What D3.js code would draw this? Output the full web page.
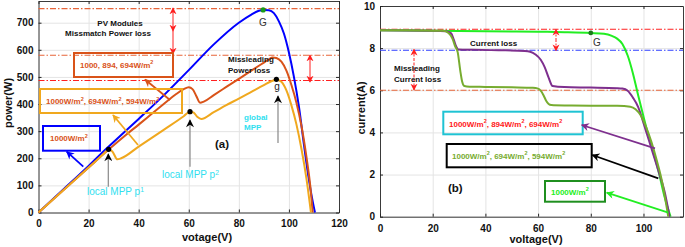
<!DOCTYPE html>
<html><head><meta charset="utf-8">
<script src="https://cdn.jsdelivr.net/npm/d3@7"></script>
<style>
body{margin:0;background:#fff;}
svg{display:block;font-family:"Liberation Sans",Arial,sans-serif;}
</style></head><body>
<svg id="c" width="685" height="247"></svg>
<script>
// ---------- DATA ----------
// (a) P-V curves
const pvXTicks = [0,20,40,60,80,100,120];
const pvYTicks = [0,100,200,300,400,500,600,700];
const blueV = [0,10,20,25,30,40,50,60,70,80,85,88,90,92,94,96,98,100,102,104,106,108,109,110.4];
const blueP = [0,86,172,217,260,345,432,525,620,700,730,744,747,746,735,705,660,590,500,390,250,120,65,0];
const midV = [0,10,20,28,35,40,45,50,55,58,60,61.5,63,64.5,66,70,75,80,85,90,92,93.5,95,97,99,101,103,105,107,108.5,109.5];
const midP = [0,83,166,232,287,324,362,400,437,455,462,455,430,405,409,433,463,493,523,553,565,572,570,556,523,470,405,320,205,100,0];
const lowV = [0,10,20,26,28,29.5,31.5,33,40,50,58,60.5,62,63.5,65,70,75,80,85,90,93,95,97,99,101,103,105,107,108.8];
const lowP = [0,83,166,216,232,225,196,200,243,305,355,372,368,352,345,370,396,420,445,470,484,490,482,450,395,325,235,125,0];
const pvLossLevels = [752, 580, 487];
const pvDots = [[28,233],[60.5,372],[95,491]];   // p1, p2, g
const pvGlobal = [[89.7,747]];                    // G

// (b) I-V curves
const ivXTicks = [0,20,40,60,80,100];
const ivYTicks = [0,2,4,6,8,10];
const greenV = [0,20,40,60,70,80,85,88,90,92,94,96,98,100,102,104,106,108,110.3];
const greenI = [8.85,8.83,8.8,8.78,8.76,8.72,8.68,8.58,8.45,8.2,7.65,6.8,5.75,4.75,3.8,2.95,2.0,0.95,0];
const purpleV = [0,20,25,27,28,29,29.7,35,45,55,57,59,61,62.5,64,65.5,70,80,90,92,94,96,98,100,102,104,106,108,109.9];
const purpleI = [8.85,8.83,8.8,8.7,8.4,8.05,7.94,7.92,7.9,7.87,7.83,7.7,7.45,7.1,6.6,6.2,6.15,6.13,6.1,6.08,5.98,5.65,5.2,4.45,3.65,2.85,2.05,1.2,0];
const oliveV = [0,10,20,24,26,27.5,28.5,29.5,30.5,31.2,32,34,40,50,58,60,61,62,63,64,65,70,80,90,95,97,99,101,103,105,107,109.4];
const oliveI = [8.85,8.85,8.83,8.82,8.72,8.45,8.1,7.8,6.9,6.4,6.2,6.17,6.16,6.14,6.12,6.08,5.98,5.78,5.52,5.35,5.3,5.28,5.27,5.26,5.22,5.1,4.8,4.25,3.55,2.69,1.7,0];
const ivLossLevels = [8.9, 7.9, 6.0];
const ivGlobal = [[80,8.72]];

// ---------- SETUP ----------
const svg = d3.select('#c');
const defs = svg.append('defs');
function marker(id, color, w, h){
  const m = defs.append('marker').attr('id',id).attr('viewBox','0 0 10 10')
    .attr('refX',9).attr('refY',5).attr('markerWidth',w).attr('markerHeight',h)
    .attr('markerUnits','userSpaceOnUse').attr('orient','auto-start-reverse');
  m.append('path').attr('d','M0,0 L10,5 L0,10 L3,5 Z').attr('fill',color);
}
marker('aRed','#ff1f1f',7,8);
marker('aBlue','#0000ff',9,8);
marker('aDk','#d95319',9,8);
marker('aOr','#f0a81e',9,8);
marker('aBlk','#000',9,8);
marker('aPur','#7e2f8e',9,8);
marker('aGrn','#22ee22',9,8);

const xL = d3.scaleLinear([0,120],[38.5,339]);
const yL = d3.scaleLinear([0,780],[212.5,1]);
const xR = d3.scaleLinear([0,115],[380,683]);
const yR = d3.scaleLinear([0,10],[216.7,6]);

function panel(x, y, xt, yt, padB){
  const g = svg.append('g');
  const [x0,x1] = x.range(), [y0,y1] = y.range();
  // grid
  g.append('g').attr('transform',`translate(0,${y0})`)
    .call(d3.axisBottom(x).tickValues(xt).tickSize(-(y0-y1)).tickFormat(''))
    .call(s=>{s.select('.domain').remove(); s.selectAll('line').attr('stroke','#e4e4e4');});
  g.append('g').attr('transform',`translate(${x0},0)`)
    .call(d3.axisLeft(y).tickValues(yt).tickSize(-(x1-x0)).tickFormat(''))
    .call(s=>{s.select('.domain').remove(); s.selectAll('line').attr('stroke','#e4e4e4');});
  // axes
  const st = s=>{s.select('.domain').attr('stroke','#262626').attr('stroke-width',0.9);
    s.selectAll('.tick line').attr('stroke','#262626');
    s.selectAll('text').attr('font-size',10).attr('font-weight','bold').attr('fill','#111').attr('font-family','"Liberation Sans",Arial,sans-serif');};
  g.append('g').attr('transform',`translate(0,${y0})`)
    .call(d3.axisBottom(x).tickValues(xt).tickSize(-3).tickPadding(padB).tickSizeOuter(0)).call(st);
  g.append('g').attr('transform',`translate(${x0},0)`)
    .call(d3.axisLeft(y).tickValues(yt).tickSize(-3).tickPadding(5).tickSizeOuter(0)).call(st);
  g.append('g').attr('transform',`translate(0,${y1})`)
    .call(d3.axisTop(x).tickValues(xt).tickSize(-3).tickFormat('').tickSizeOuter(0)).call(st);
  g.append('g').attr('transform',`translate(${x1},0)`)
    .call(d3.axisRight(y).tickValues(yt).tickSize(-3).tickFormat('').tickSizeOuter(0)).call(st);
  return g;
}
panel(xL,yL,pvXTicks,pvYTicks,7);
panel(xR,yR,ivXTicks,ivYTicks,8);

const zip = (a,b)=>a.map((v,i)=>[v,b[i]]);
const DASH = '6,2,1.5,2';

function txt(x,y,parts,opts){
  const t = svg.append('text').attr('x',x).attr('y',y)
    .attr('font-size',opts.size||8).attr('font-weight',opts.weight||'bold')
    .attr('fill',opts.fill||'#111').attr('text-anchor',opts.anchor||'start');
  let up = false;
  parts.forEach(p=>{
    if (typeof p === 'string'){
      t.append('tspan').attr('dy', up ? 3.5 : 0).text(p); up=false;
    } else {
      t.append('tspan').attr('dy', -3.5).attr('font-size',(opts.size||8)*0.68).text(p.sup); up=true;
    }
  });
  return t;
}
function arrow(x1,y1,x2,y2,color,mk,opts={}){
  const l = svg.append('line').attr('x1',x1).attr('y1',y1).attr('x2',x2).attr('y2',y2)
    .attr('stroke',color).attr('stroke-width',opts.w||1.6).attr('marker-end',`url(#${mk})`);
  if (opts.both) l.attr('marker-start',`url(#${mk})`);
  if (opts.dash) l.attr('stroke-dasharray',opts.dash);
  return l;
}
function box(x1,y1,x2,y2,color){
  svg.append('rect').attr('x',x1).attr('y',y1).attr('width',x2-x1).attr('height',y2-y1)
    .attr('fill','none').attr('stroke',color).attr('stroke-width',2);
}

// ---------- (a) ----------
const pvLossColors = ['#e8653a','#e8653a','#ff2020'];
svg.append('g').selectAll('line').data(pvLossLevels).join('line')
  .attr('x1',xL(0)).attr('x2',xL(120)).attr('y1',d=>yL(d)).attr('y2',d=>yL(d))
  .attr('stroke',(d,i)=>pvLossColors[i]).attr('stroke-width',1.1).attr('stroke-dasharray',DASH);

const lineL = d3.line().x(d=>xL(d[0])).y(d=>yL(d[1])).curve(d3.curveMonotoneX);
[[blueV,blueP,'#0000ff'],[midV,midP,'#d95319'],[lowV,lowP,'#f0a81e']].forEach(([v,p,c])=>{
  svg.append('path').datum(zip(v,p)).attr('d',lineL).attr('fill','none').attr('stroke',c).attr('stroke-width',2);
});
svg.append('g').selectAll('circle').data(pvDots).join('circle')
  .attr('cx',d=>xL(d[0])).attr('cy',d=>yL(d[1])).attr('r',2.6).attr('fill','#000');
svg.append('g').selectAll('circle').data(pvGlobal).join('circle')
  .attr('cx',d=>xL(d[0])).attr('cy',d=>yL(d[1])).attr('r',2.6).attr('fill','#1a9a1a');

txt(120,25.5,['PV Modules'],{anchor:'middle'});
txt(108,35.5,['Missmatch Power loss'],{anchor:'middle'});
arrow(173,31,173,8,'#ff1f1f','aRed',{w:1,both:true});
arrow(173,31,173,54,'#ff1f1f','aRed',{w:1});
arrow(310,68,310,55,'#ff1f1f','aRed',{w:1});
arrow(310,68,310,82,'#ff1f1f','aRed',{w:1});
txt(228,62,['Missleading'],{});
txt(228,72.5,['Power loss'],{});
txt(263,26,['G'],{size:10,weight:'normal',fill:'#333',anchor:'middle'});
txt(277,90,['g'],{size:10,weight:'normal',fill:'#222',anchor:'middle'});

box(74,53,173,77,'#d95319');
txt(80,67.5,['1000, 894, 694W/m',{sup:'2'}],{fill:'#d95319'});
arrow(170,100,145,79.5,'#d95319','aDk',{w:1.8});

box(40,89,182,113,'#f0a81e');
txt(46,104,['1000W/m',{sup:'2'},', 694W/m',{sup:'2'},', 594W/m',{sup:'2'}],{fill:'#d95319'});
arrow(138,145,113,115,'#f0a81e','aOr',{w:1.8});

box(43,126,100,150.7,'#0000ff');
txt(50,141,['1000W/m',{sup:'2'}],{fill:'#d95319'});
arrow(83.3,166.7,66.7,151.7,'#0000ff','aBlue',{w:1.8});

arrow(108.3,186.7,108.3,154,'#888','aBlk',{w:1.2});
arrow(190,166.7,190,120,'#888','aBlk',{w:1.2});
arrow(278,143,278,96,'#888','aBlk',{w:1.2});
txt(87,195,['local MPP p',{sup:'1'}],{size:10,weight:'normal',fill:'#30e0ef'});
txt(162,178,['local MPP p',{sup:'2'}],{size:10,weight:'normal',fill:'#30e0ef'});
txt(244,120,['global'],{fill:'#30e0ef'});
txt(244,130,['MPP'],{fill:'#30e0ef'});
txt(215,147.5,['(a)'],{size:11.5});

// ---------- (b) ----------
const ivLossColors = ['#ff2020','#2f3fff','#e8653a'];
svg.append('g').selectAll('line').data(ivLossLevels).join('line')
  .attr('x1',xR(0)).attr('x2',xR(115)).attr('y1',d=>yR(d)).attr('y2',d=>yR(d))
  .attr('stroke',(d,i)=>ivLossColors[i]).attr('stroke-width',1.1).attr('stroke-dasharray',DASH);

const lineR = d3.line().x(d=>xR(d[0])).y(d=>yR(d[1])).curve(d3.curveMonotoneX);
[[greenV,greenI,'#22ee22'],[purpleV,purpleI,'#7e2f8e'],[oliveV,oliveI,'#77ac30']].forEach(([v,p,c])=>{
  svg.append('path').datum(zip(v,p)).attr('d',lineR).attr('fill','none').attr('stroke',c).attr('stroke-width',2);
});
svg.append('g').selectAll('circle').data(ivGlobal).join('circle')
  .attr('cx',d=>xR(d[0])).attr('cy',d=>yR(d[1])).attr('r',2.4).attr('fill','#1a7a1a');

txt(597,45.5,['G'],{size:10,weight:'normal',fill:'#333',anchor:'middle'});
arrow(556,40,556,29.3,'#ff1f1f','aRed',{w:1,dash:'2,1.5'});
arrow(556,40,556,50.7,'#ff1f1f','aRed',{w:1,dash:'2,1.5'});
arrow(414,70,414,49.3,'#ff1f1f','aRed',{w:1,dash:'3,1.5'});
arrow(414,70,414,90,'#ff1f1f','aRed',{w:1,dash:'3,1.5'});
txt(470,45.5,['Current loss'],{});
txt(394,71,['Missleading'],{});
txt(394,82,['Current loss'],{});

box(443.3,111.7,582.7,134.3,'#1fc3d3');
txt(449,126.5,['1000W/m',{sup:'2'},', 894W/m',{sup:'2'},', 694W/m',{sup:'2'}],{fill:'#ff1a1a'});
arrow(655,148.3,581.7,125,'#7e2f8e','aPur',{w:1.8});

box(446.7,144,591.7,167.3,'#000');
txt(452,158.5,['1000W/m',{sup:'2'},', 694W/m',{sup:'2'},', 594W/m',{sup:'2'}],{fill:'#77ac30'});
arrow(658.3,178.3,592.3,155,'#000','aBlk',{w:1.8});

box(545,181,605,201.7,'#1f8f1f');
txt(551,194.5,['1000W/m',{sup:'2'}],{fill:'#22ee22'});
arrow(668.3,212.7,606.7,192.7,'#22ee22','aGrn',{w:1.8});
txt(448,192,['(b)'],{size:11.5});

// ---------- axis titles ----------
svg.append('text').attr('transform','translate(12,103) rotate(-90)').attr('text-anchor','middle')
  .attr('font-size',11).attr('font-weight','bold').attr('fill','#111').text('power(W)');
svg.append('text').attr('x',207).attr('y',240.5).attr('text-anchor','middle')
  .attr('font-size',11).attr('font-weight','bold').attr('fill','#111').text('votage(V)');
svg.append('text').attr('transform','translate(365,108) rotate(-90)').attr('text-anchor','middle')
  .attr('font-size',11).attr('font-weight','bold').attr('fill','#111').text('current(A)');
svg.append('text').attr('x',536).attr('y',242.5).attr('text-anchor','middle')
  .attr('font-size',11).attr('font-weight','bold').attr('fill','#111').text('voltage(V)');
</script></body></html>
